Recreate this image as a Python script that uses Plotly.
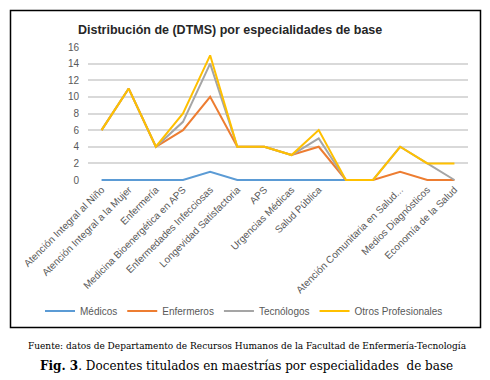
import plotly.graph_objects as go

categories = [
    "Atención Integral al Niño",
    "Atención Integral a la Mujer",
    "Enfermería",
    "Medicina Bioenergética en APS",
    "Enfermedades Infecciosas",
    "Longevidad Satisfactoria",
    "APS",
    "Urgencias Médicas",
    "Salud Pública",
    " ",
    "  ",
    "Atención Comunitaria en Salud...",
    "Medios Diagnósticos",
    "Economía de la Salud",
]

medicos = [0, 0, 0, 0, 1, 0, 0, 0, 0, 0, 0, None, None, None]
enfermeros = [6, 11, 4, 6, 10, 4, 4, 3, 4, 0, 0, 1, 0, 0]
tecnologos = [6, 11, 4, 7, 14, 4, 4, 3, 5, 0, 0, 4, 2, 0]
otros = [6, 11, 4, 8, 15, 4, 4, 3, 6, 0, 0, 4, 2, 2]

series_names = ["Médicos", "Enfermeros", "Tecnólogos", "Otros Profesionales"]
series_values = [medicos, enfermeros, tecnologos, otros]
series_colors = ["#5B9BD5", "#ED7D31", "#A5A5A5", "#FFC000"]

y_ticks = [0, 2, 4, 6, 8, 10, 12, 14, 16]

fig = go.Figure()
for name, vals, col in zip(series_names, series_values, series_colors):
    fig.add_trace(go.Scatter(
        x=categories, y=vals, name=name, mode="lines",
        line=dict(color=col, width=2), connectgaps=False,
    ))

# page has an 8px body margin: figure origin sits at page (8, 8)
O = 8
FW, FH = 490 - O, 380 - O
# plot area in page pixels: x 88..468, y 47..181 (0 at 180, small pad below)
L, R, T, B = 88 - O, 468 - O, 47 - O, 181 - O
W, H = R - L, B - T
Y0 = -16 * 1.0 / 133  # one pixel of padding below zero
def px(x):
    return (x - O - L) / W
def py(y):
    return (B - (y - O)) / H

fig.update_layout(
    width=FW, height=FH,
    margin=dict(l=L, r=FW - R, t=T, b=FH - B, autoexpand=False),
    paper_bgcolor="white", plot_bgcolor="white",
    font=dict(family="Liberation Sans, Arial, sans-serif", size=10, color="#595959"),
    showlegend=True,
    legend=dict(
        orientation="h", x=px(40), xanchor="left", y=py(311), yanchor="middle",
        font=dict(size=10, color="#595959"), itemwidth=30, tracegroupgap=0,
        bgcolor="rgba(0,0,0,0)",
    ),
    xaxis=dict(
        type="category", tickangle=-45, showgrid=False, showline=False,
        zeroline=False, ticks="", tickfont=dict(size=10, color="#595959"),
        range=[-0.5, len(categories) - 0.5], automargin=False,
    ),
    yaxis=dict(
        range=[Y0, 16], tickvals=y_ticks, showgrid=True, gridcolor="#D9D9D9",
        gridwidth=1.5, zeroline=False, showline=False, ticks="",
        tickfont=dict(size=10, color="#595959"), ticklabelstandoff=8,
        automargin=False,
    ),
    shapes=[
        dict(type="rect", xref="paper", yref="paper",
             x0=px(10.5), x1=px(480.5), y0=py(327.5), y1=py(10.5),
             line=dict(color="black", width=1.5), fillcolor="rgba(0,0,0,0)"),
    ],
    annotations=[
        dict(text="<b>Distribución de (DTMS) por especialidades de base</b>",
             xref="paper", yref="paper", x=px(76), y=py(30),
             xanchor="left", yanchor="middle", showarrow=False,
             font=dict(family="Liberation Sans, Arial, sans-serif", size=12.5, color="#262626")),
        dict(text="Fuente: datos de Departamento de Recursos Humanos de la Facultad de Enfermería-Tecnología",
             xref="paper", yref="paper", x=px(247), y=py(346),
             xanchor="center", yanchor="middle", showarrow=False,
             font=dict(family="DejaVu Serif, serif", size=9, color="black")),
        dict(text="<b>Fig. 3</b>. Docentes titulados en maestrías por especialidades  de base",
             xref="paper", yref="paper", x=px(246), y=py(366),
             xanchor="center", yanchor="middle", showarrow=False,
             font=dict(family="DejaVu Serif, serif", size=12, color="black")),
    ],
)

fig.write_html("out.html")
